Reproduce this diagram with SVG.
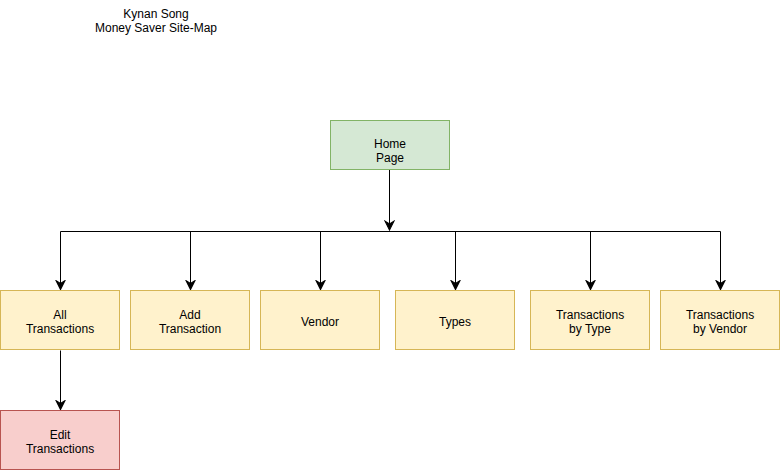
<svg xmlns="http://www.w3.org/2000/svg" width="781" height="471" viewBox="0 0 781 471">
  <style>
    text { font-family: "Liberation Sans", Arial, Helvetica, sans-serif; font-size: 12px; fill: #000; text-anchor: middle; }
    .green { fill: #d5e8d4; stroke: #82b366; stroke-width: 1; }
    .yellow { fill: #fff2cc; stroke: #d6b656; stroke-width: 1; }
    .red { fill: #f8cecc; stroke: #b85450; stroke-width: 1; }
    .edge { fill: none; stroke: #000; stroke-width: 1; }
  </style>
  <defs>
    <marker id="arrow" markerUnits="userSpaceOnUse" markerWidth="11" markerHeight="12" refX="9" refY="5" orient="auto" viewBox="0 0 10 10">
      <path d="M1,1 L9,5 L1,9 L3.5,5 Z" fill="#000" stroke="#000" stroke-width="1"/>
    </marker>
  </defs>
  <rect width="781" height="471" fill="#fff"/>

  <g id="title">
    <text x="156" y="18">Kynan Song</text>
    <text x="156" y="32">Money Saver Site-Map</text>
  </g>

  <g id="connectors">
    <path class="edge" d="M389.5,170 V230" marker-end="url(#arrow)"/>
    <path class="edge" d="M60.5,231.5 H720.5"/>
    <path class="edge" d="M60.5,231.5 V289.5" marker-end="url(#arrow)"/>
    <path class="edge" d="M190.5,231.5 V289.5" marker-end="url(#arrow)"/>
    <path class="edge" d="M320.5,231.5 V289.5" marker-end="url(#arrow)"/>
    <path class="edge" d="M455.5,231.5 V289.5" marker-end="url(#arrow)"/>
    <path class="edge" d="M590.5,231.5 V289.5" marker-end="url(#arrow)"/>
    <path class="edge" d="M720.5,231.5 V289.5" marker-end="url(#arrow)"/>
    <path class="edge" d="M60.5,350.5 V409.5" marker-end="url(#arrow)"/>
  </g>

  <g id="home">
    <rect class="green" x="330.5" y="120.5" width="119" height="49"/>
    <text x="390" y="148">Home</text>
    <text x="390" y="162">Page</text>
  </g>

  <g id="all-transactions">
    <rect class="yellow" x="0.5" y="290.5" width="119" height="59"/>
    <text x="60" y="319">All</text>
    <text x="60" y="333">Transactions</text>
  </g>

  <g id="add-transaction">
    <rect class="yellow" x="130.5" y="290.5" width="119" height="59"/>
    <text x="190" y="319">Add</text>
    <text x="190" y="333">Transaction</text>
  </g>

  <g id="vendor">
    <rect class="yellow" x="260.5" y="290.5" width="119" height="59"/>
    <text x="320" y="326">Vendor</text>
  </g>

  <g id="types">
    <rect class="yellow" x="395.5" y="290.5" width="119" height="59"/>
    <text x="455" y="326">Types</text>
  </g>

  <g id="transactions-by-type">
    <rect class="yellow" x="530.5" y="290.5" width="119" height="59"/>
    <text x="590" y="319">Transactions</text>
    <text x="590" y="333">by Type</text>
  </g>

  <g id="transactions-by-vendor">
    <rect class="yellow" x="660.5" y="290.5" width="119" height="59"/>
    <text x="720" y="319">Transactions</text>
    <text x="720" y="333">by Vendor</text>
  </g>

  <g id="edit-transactions">
    <rect class="red" x="0.5" y="410.5" width="119" height="59"/>
    <text x="60" y="439">Edit</text>
    <text x="60" y="453">Transactions</text>
  </g>
</svg>
